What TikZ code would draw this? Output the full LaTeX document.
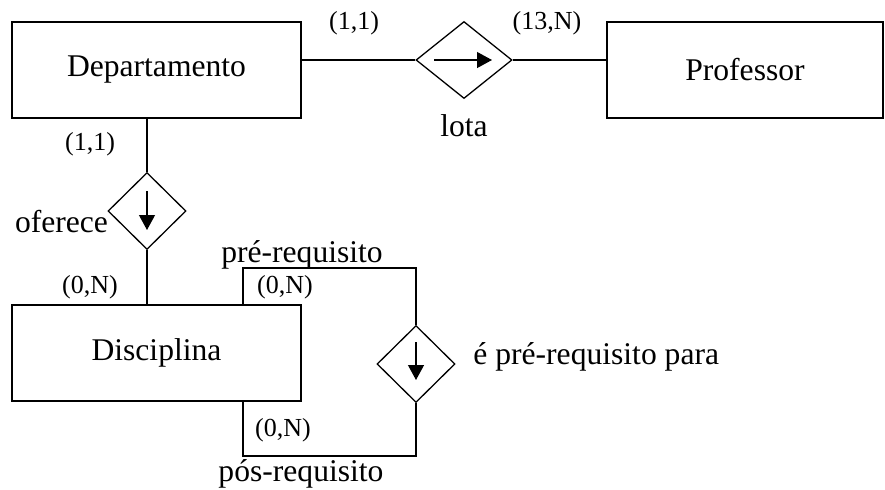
\documentclass[tikz,border=0pt]{standalone}
\usepackage{fontspec}
\setmainfont{Liberation Serif}
\usetikzlibrary{shapes.geometric,arrows.meta}

\begin{document}
\begin{tikzpicture}[x=0.5pt,y=-0.5pt,
    entidade/.style={draw,line width=0.65pt,minimum height=48pt,inner sep=0pt,
      font=\fontsize{15.8}{18}\selectfont},
    relac/.style={draw,diamond,line width=0.65pt,inner sep=0pt,
      minimum width=39pt,minimum height=38.5pt},
    rotulo/.style={inner sep=0pt,font=\fontsize{15.8}{18}\selectfont},
    card/.style={inner sep=0pt,font=\fontsize{13}{15}\selectfont},
    linha/.style={line width=0.6pt},
    seta/.style={line width=0.6pt,-{Triangle[length=7.5pt,width=8pt]}}]
    \useasboundingbox (0,0) rectangle (885,489);

    % entidades
    \node[entidade,minimum width=144.5pt] (dep) at (156.5,70) {Departamento};
    \node[entidade,minimum width=138pt] (prof) at (745,70) {Professor};
    \node[entidade,minimum width=144.5pt] (disc) at (156.5,353) {Disciplina};

    % relacionamentos
    \node[relac,minimum width=48pt] (lota) at (464,60) {};
    \node[relac] (oferece) at (147,211) {};
    \node[relac] (prereq) at (416,364) {};

    \draw[seta] ([shift={(-30,0)}]lota.center) -- ([shift={(28,0)}]lota.center);
    \draw[seta] ([shift={(0,-20)}]oferece.center) -- ([shift={(0,19)}]oferece.center);
    \draw[seta] ([shift={(0,-22)}]prereq.center) -- ([shift={(0,16)}]prereq.center);

    % ligacoes
    \draw[linha] (lota.west) -- (lota.west -| dep.east);
    \draw[linha] (lota.east) -- (lota.east -| prof.west);
    \draw[linha] (oferece.north) -- (oferece.north |- dep.south);
    \draw[linha] (oferece.south) -- (oferece.south |- disc.north);
    \coordinate (pre) at (243,268);
    \coordinate (pos) at (243,456);
    \draw[linha] (prereq.north) |- (pre) -- (pre |- disc.north);
    \draw[linha] (prereq.south) |- (pos) -- (pos |- disc.south);

    % nomes e cardinalidades
    \node[rotulo] (nlota) at (464,126) {lota};
    \node[rotulo] (noferece) at (61.5,222) {oferece};
    \node[rotulo,anchor=west] (nprereq) at (473,357) {é pré-requisito para};
    \node[rotulo] (npre) at (302,255) {pré-requisito};
    \node[rotulo] (npos) at (301,474) {pós-requisito};
    \node[card] (c1) at (354,23) {(1,1)};
    \node[card] (c2) at (547,23) {(13,N)};
    \node[card] (c3) at (90,144) {(1,1)};
    \node[card] (c4) at (90,287) {(0,N)};
    \node[card] (c5) at (285,287) {(0,N)};
    \node[card] (c6) at (283,430) {(0,N)};
\end{tikzpicture}
\end{document}
